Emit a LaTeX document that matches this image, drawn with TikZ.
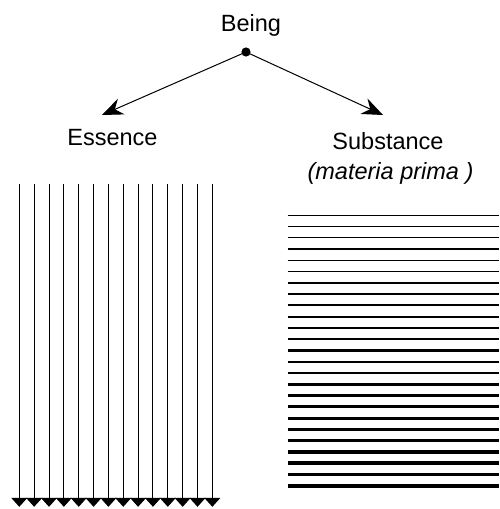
\documentclass[tikz,border=0pt]{standalone}
\usepackage{fontspec}
\setmainfont{Liberation Sans}
\usetikzlibrary{arrows.meta}

\tikzset{
  label text/.style={inner sep=0pt, anchor=base, font=\fontsize{23.5}{28}\selectfont},
  branch/.style={line width=1pt, -{Stealth[length=21pt, width=17pt, inset=7pt]}},
  ray/.style={line width=1pt, -{Triangle[length=9pt, width=16pt]}},
}

\begin{document}
\begin{tikzpicture}[x=1pt, y=-1pt]
  % fixed canvas
  \useasboundingbox (0,0) rectangle (499,509);

  % labels
  \node[label text] (being) at (251,31) {Being};
  \node[label text] (essence) at (112.5,145) {Essence};
  \node[label text] (substance) at (388,149) {Substance};
  \node[label text] (materia) at (390.5,179) {\itshape (materia prima )};

  % root point and the two branches
  \coordinate (root) at (246,52);
  \fill (root) circle (4.6pt);
  \coordinate (essTip) at (102,115);
  \coordinate (subTip) at (383,115);
  \draw[branch] (root) -- (essTip);
  \draw[branch] (root) -- (subTip);

  % essence: downward rays
  \foreach \i in {0,...,13} {
    \pgfmathsetmacro{\xx}{19.3 + 14.85*\i}
    \coordinate (rayTop\i) at (\xx,184);
    \coordinate (rayEnd\i) at (\xx,506.8);
    \draw[ray] (rayTop\i) -- (rayEnd\i);
  }

  % substance: layers growing heavier downward
  \foreach \i in {0,...,24} {
    \pgfmathsetmacro{\yy}{215.3 + 11.27*\i}
    \pgfmathsetmacro{\ww}{1 + 3*\i/24}
    \coordinate (layerL\i) at (287.5,\yy);
    \coordinate (layerR\i) at (499,\yy);
    \draw[line width=\ww pt] (layerL\i) -- (layerR\i);
  }
\end{tikzpicture}
\end{document}
